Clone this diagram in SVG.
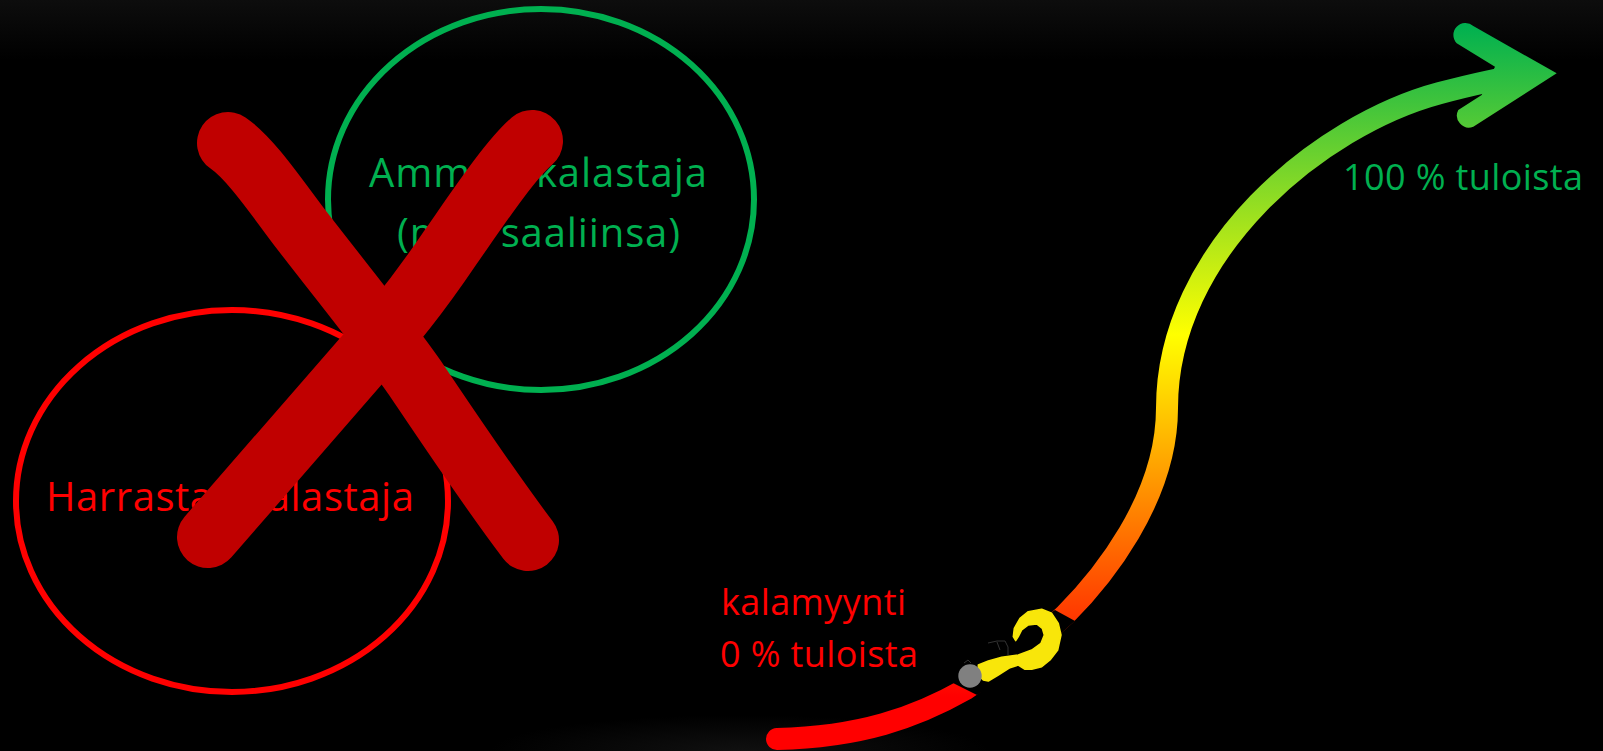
<svg xmlns="http://www.w3.org/2000/svg" width="1603" height="751" viewBox="0 0 1603 751">
<defs>
<linearGradient id="topGlow" x1="0" y1="0" x2="0" y2="1"><stop offset="0" stop-color="#0d0d0d"/><stop offset="1" stop-color="#000"/></linearGradient>
<radialGradient id="botGlow"><stop offset="0" stop-color="#101010"/><stop offset="1" stop-color="#000"/></radialGradient>
<linearGradient id="ramp" gradientUnits="userSpaceOnUse" x1="0" y1="25" x2="0" y2="697"><stop offset="0" stop-color="#00b050"/><stop offset="0.461" stop-color="#ffff00"/><stop offset="1" stop-color="#ff0000"/></linearGradient>
</defs>
<style>
text{font-family:"Open Sans","Noto Sans","Liberation Sans",sans-serif}
.ring{fill:none;stroke-width:6}
.g{fill:#00b050}.r{fill:#ff0000}
.big{font-size:40px}.mid{font-size:36px}
.cross{fill:none;stroke:#c00000;stroke-width:62;stroke-linecap:round;stroke-linejoin:round}
</style>
<rect width="1603" height="751" fill="#000"/>
<rect width="1603" height="60" fill="url(#topGlow)"/>
<ellipse cx="740" cy="751" rx="250" ry="36" fill="url(#botGlow)"/>
<g id="ammattikalastaja">
<ellipse class="ring" cx="541" cy="199.5" rx="213" ry="190.5" stroke="#00b050"/>
<text class="g big" x="369" y="187" textLength="338">Ammattikalastaja</text>
<text class="g big" x="397" y="247" textLength="283">(myy saaliinsa)</text>
</g>
<g id="harrastajakalastaja">
<ellipse class="ring" cx="232" cy="501" rx="216" ry="191" stroke="#ff0000"/>
<text class="r big" x="46" y="511" textLength="368">Harrastajakalastaja</text>
</g>
<g id="cross">
<path class="cross" d="M228,143 C250,158 275,195 300,228 C340,280 385,335 415,378 C450,430 490,490 528,540"/>
<path class="cross" d="M532,141 C510,160 480,205 450,248 C425,285 395,325 362,360 L208,537"/>
</g>
<g id="connectors">
<path d="M777,739 C860,737 915,718 966,689 C1000,664 1035,643 1065,615 C1100,580 1167,500 1167,408 C1167,250 1320,125 1440,93 C1470,85 1500,78 1530,74" fill="none" stroke="url(#ramp)" stroke-width="22" stroke-linecap="round"/>
<path d="M1556.7,73.3 L1473.3,26 A12,12 0 0 0 1456.7,43.3 L1495,66.7 L1481.7,95 L1458.3,110 A12,12 0 0 0 1473.3,126.7 Z" fill="url(#ramp)"/>
</g>
<g id="lure">
<polygon points="953,683 977,695 1022,668 1075,621 1055,610 1008,640" fill="#000"/>
<path d="M978.3,665 L988.3,661 L1001.7,657.3 L1018.3,655 L1031.7,650 L1041,643.3 L1044.3,635 L1042.3,628.3 L1036.7,624 L1028.3,625 L1021.7,630 L1018.3,636.7 L1015.7,640.7 L1013.3,636.7 L1014.3,628.3 L1020,618.3 L1028.3,611.7 L1041.7,609.3 L1051.7,613.3 L1058.3,623.3 L1061,635 L1057.7,650 L1050,660 L1041.7,666.7 L1031.7,669.3 L1025,669.3 L1018.3,665 L1010,667.7 L998.3,675 L988.3,681 L983.3,680 L978.3,675 Z" fill="#f8e60a" stroke="#f8e60a" stroke-width="1.5" stroke-linejoin="round"/>
<circle cx="970" cy="676" r="11.7" fill="#808080"/>
<path d="M988,643 L997,641 L1005,641 L1008,647 L1008,655 M997,642 L1000,650 M964,663 L968,660 L971,663" fill="none" stroke="#333" stroke-width="1"/>
</g>
<g id="labels">
<text class="r mid" x="721" y="615" textLength="185">kalamyynti</text>
<text class="r mid" x="720" y="667" textLength="198">0 % tuloista</text>
<text class="g mid" x="1343" y="190" textLength="240">100 % tuloista</text>
</g>
</svg>
